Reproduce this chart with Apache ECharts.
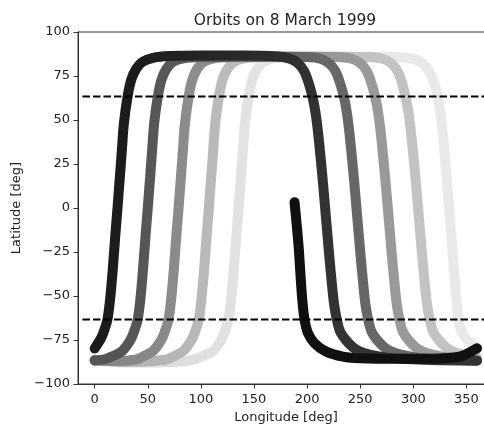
<!DOCTYPE html>
<html><head><meta charset="utf-8">
<script src="https://cdn.jsdelivr.net/npm/echarts@6/dist/echarts.min.js"></script>
<style>html,body{margin:0;padding:0;background:#fff}#c{width:484px;height:427px}</style>
</head><body><div id="c"></div>
<script>
const titleText = 'Orbits on 8 March 1999';
const xName = 'Longitude [deg]';
const yName = 'Latitude [deg]';
const xTicks = [0, 50, 100, 150, 200, 250, 300, 350];
const yTicks = [-100, -75, -50, -25, 0, 25, 50, 75, 100];
const criticalLat = [63.4, -63.4];
const refLonRange = [-11.5, 376];

// ground-track segments (lon, lat), lightest (earliest) to darkest (latest)
const track5 = [[0,-86.2],[30,-87.8],[60,-87.8],[86,-87],[96,-85.7],[104,-83.5],[111,-81.5],[116,-78],[120,-74],[123,-69.5],[126,-63.4],[128.5,-52],[131,-35],[133.5,-15],[135.5,0],[137.5,16],[139.5,32],[141.5,48],[145,63.4],[148.5,73],[153,79],[159,83],[169,85],[184,85.8],[230,86],[270,86],[288,85.6],[301,84.6],[309,82],[315,77.5],[319,72],[323,63.4],[326,52],[328.5,38],[331,20],[333,5],[334,-2],[336,-17],[338,-33],[340,-48],[342.5,-63.4],[345.5,-70],[351,-75],[360,-79]];
const track4 = [[0,-86.2],[28,-87.4],[48,-87.2],[68,-86],[76,-83.8],[83,-81.5],[88,-78],[92,-74],[95,-69.5],[98,-63.4],[100.5,-52],[103,-35],[105.5,-15],[107.5,0],[109.5,16],[111.5,32],[113.5,48],[117,63.4],[120.5,73],[125,79],[131,83],[141,85],[156,85.8],[200,86],[240,86],[258,85.8],[271,84.8],[279,82.3],[285,78],[289,72],[292.5,63.4],[295.5,54],[298,42],[300.5,27],[302.5,14],[304.5,0],[306.5,-14],[308.5,-28],[311,-44],[313,-55],[315.5,-63.4],[318.5,-70],[324,-75],[330.5,-79],[337,-81.5],[347.5,-83.5],[360,-84.8]];
const track3 = [[0,-86.6],[19.5,-87],[39.5,-86],[47.5,-83.8],[54.5,-81.5],[59.5,-78],[63.5,-74],[66.5,-69.5],[69.5,-63.4],[72,-52],[74.5,-35],[77,-15],[79,0],[81,16],[83,32],[85,48],[88.5,63.4],[92,73],[96.5,79],[102.5,83],[112.5,85],[127.5,85.8],[170,86],[210,86],[229,85.8],[242,84.8],[250,82.3],[256,78],[260,72],[264,63.4],[267,54],[269.5,42],[272,27],[274,14],[276,0],[278,-14],[280,-28],[282.5,-44],[284.5,-55],[287,-63.4],[290,-70],[295.5,-75],[302,-79],[308.5,-81.5],[319,-83.5],[334,-85],[360,-86.2]];
const track2 = [[0,-86.6],[10.5,-85.8],[18.5,-83.8],[25.5,-81.5],[30.5,-78],[34.5,-74],[37.5,-69.5],[40.5,-63.4],[43,-52],[45.5,-35],[48,-15],[50,0],[52,16],[54,32],[56,48],[59.5,63.4],[63,73],[67.5,79],[73.5,83],[83.5,85],[98.5,85.8],[140,86],[180,86],[200,85.8],[212.5,84.8],[220.5,82.3],[226.5,78],[230.5,72],[234.6,63.4],[237.5,54],[240,42],[242.5,27],[244.5,14],[246.5,0],[248.5,-14],[250.5,-28],[253,-44],[255,-55],[257.5,-63.4],[260.5,-70],[266,-75],[272.5,-79],[279,-81.5],[289.5,-83.5],[304.5,-85],[329.5,-86],[360,-86.6]];
const track1 = [[0,-79.8],[3,-77],[6,-74],[9,-69.5],[12,-63.4],[14.5,-52],[17,-35],[19.5,-15],[21.5,0],[23.5,16],[25.5,32],[27.5,48],[31,63.4],[34.5,73],[39,79],[45,83],[55,85.3],[70,86.3],[100,86.6],[140,86.6],[170,86.2],[183,85],[191,82.5],[197,78],[201,72],[205,63.4],[208,54],[210.5,42],[213,27],[215,14],[217,0],[219,-14],[221,-28],[223.5,-44],[225.5,-55],[228,-63.4],[231,-70],[236.5,-75],[243,-79],[249.5,-81.5],[260,-83.5],[275,-85],[300,-86],[330,-86.5],[360,-86.8]];
const track0 = [[188.2,3.3],[190.3,-10],[192.3,-24],[194,-40],[195.6,-53],[197.6,-63.4],[200.8,-71],[207,-76.8],[218,-81.6],[233.7,-84.4],[250,-85.4],[290,-85.7],[325,-85.5],[340,-84.8],[347,-83.8],[352,-82.3],[356,-81],[360,-79.7]];

const tracks = [track5, track4, track3, track2, track1, track0];
const ascColors  = ['#dadada', '#b3b3b3', '#878787', '#555555', '#1c1c1c', '#101010'];
const descColors = ['#e9e9e9', '#c3c3c3', '#999999', '#676767', '#333333', '#101010'];

const chart = echarts.init(document.getElementById('c'), null, {renderer: 'canvas'});
const font = 'DejaVu Sans';
const txt = '#222222';
const minusFmt = v => String(v).replace('-', '\u2212');

const series = tracks.map((t, i) => ({
  type: 'line',
  data: t,
  showSymbol: false,
  smooth: 0.3,
  silent: true,
  lineStyle: {
    width: 10,
    cap: 'round',
    join: 'round',
    color: ascColors[i] === descColors[i] ? ascColors[i] : {
      type: 'linear', x: 0, y: 0, x2: 1, y2: 0,
      colorStops: [
        {offset: 0, color: ascColors[i]},
        {offset: 0.12, color: ascColors[i]},
        {offset: 0.6, color: descColors[i]},
        {offset: 1, color: descColors[i]}
      ]
    }
  },
  emphasis: {disabled: true},
  z: 2
}));
criticalLat.forEach(lat => {
  series.push({
    type: 'line',
    data: [[refLonRange[0], lat], [refLonRange[1], lat]],
    showSymbol: false,
    silent: true,
    lineStyle: {color: '#000', width: 2, type: [7.5, 3]},
    emphasis: {disabled: true},
    z: 3
  });
});

chart.setOption({
  animation: false,
  backgroundColor: '#fff',
  title: {
    text: titleText, left: 280, top: 8, textAlign: 'center',
    textStyle: {fontFamily: font, fontSize: 15.5, fontWeight: 'normal', color: txt}
  },
  grid: {left: 78, top: 32, width: 416, height: 352, show: true, borderColor: '#333', borderWidth: 1, backgroundColor: 'transparent', containLabel: false, outerBoundsMode: 'none'},
  xAxis: {
    type: 'value', min: -15.7, max: 376,
    name: xName, nameLocation: 'middle', nameGap: 27,
    nameTextStyle: {fontFamily: font, fontSize: 13, color: txt},
    axisLine: {show: true, onZero: false, lineStyle: {color: '#333', width: 1}},
    axisTick: {show: true, length: 4.5, customValues: xTicks, lineStyle: {color: '#333'}},
    axisLabel: {customValues: xTicks, margin: 9, fontFamily: font, fontSize: 13, color: txt, formatter: minusFmt},
    splitLine: {show: false}
  },
  yAxis: {
    type: 'value', min: -100, max: 100, interval: 25,
    name: yName, nameLocation: 'middle', nameGap: 50,
    nameTextStyle: {fontFamily: font, fontSize: 13, color: txt},
    axisLine: {show: true, onZero: false, lineStyle: {color: '#333', width: 1}},
    axisTick: {show: true, length: 4.5, customValues: yTicks, lineStyle: {color: '#333'}},
    axisLabel: {customValues: yTicks, margin: 8, fontFamily: font, fontSize: 13, color: txt, formatter: minusFmt},
    splitLine: {show: false}
  },
  series: series
});
</script></body></html>
